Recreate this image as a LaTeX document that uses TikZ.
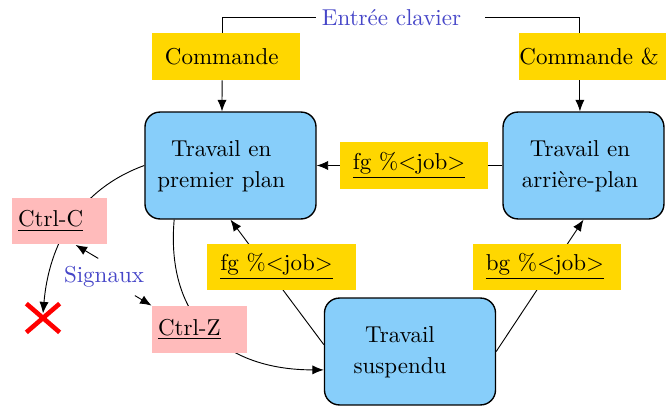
\documentclass[tikz,border=0pt]{standalone}
\usepackage{tikz}
\usetikzlibrary{arrows.meta, shapes.misc, backgrounds}

\definecolor{jaune}{RGB}{255,215,0}
\definecolor{bleuclair}{RGB}{135,206,250}
\definecolor{rose}{RGB}{255,187,187}
\definecolor{bleutexte}{RGB}{70,70,200}

% two centred lines, pushed a little to the left
\newcommand{\deuxlignes}[3][8pt]{{\renewcommand{\arraystretch}{1.12}%
  \begin{tabular}{@{}c@{\hspace{#1}}}#2\\#3\end{tabular}}}

\begin{document}
\begin{tikzpicture}[x=0.435pt, y=-0.435pt,
    >={Latex[length=5pt,width=4pt]},
    boitetravail/.style={rectangle, rounded corners=6.5pt, draw, line width=0.6pt,
        fill=bleuclair, minimum width=74.4pt, minimum height=46.5pt, inner sep=0pt},
    boitecmd/.style={rectangle, fill=jaune, text width=53.1pt, align=left,
        inner xsep=5.66pt, minimum height=20.4pt},
    boitesig/.style={rectangle, fill=rose, text width=36.1pt, align=left,
        inner xsep=2.6pt, minimum height=20.4pt},
    etiquette/.style={text=bleutexte}]
    \useasboundingbox (0,0) rectangle (666,406);
    \clip (0,0) rectangle (666,406);

    % Nodes
    \node[etiquette, text width=68.3pt, align=left, inner xsep=2.6pt] (clavier) at (400.5,17.5) {Entrée clavier};
    \node[boitecmd] (cmd) at (226,56.5) {Commande};
    \node[boitecmd, anchor=west, inner xsep=0pt, text width=75pt] (cmdbg) at (519,56.5) {Commande \&};

    \node[boitetravail] (premier) at (230.5,165.5) {\deuxlignes{Travail en}{premier plan}};
    \node[boitetravail, minimum width=70pt] (arriere) at (583.5,165.5) {\deuxlignes[3pt]{Travail en}{arrière-plan}};
    \node[boitetravail] (suspendu) at (410,351.5) {\deuxlignes[8.7pt]{Travail}{suspendu}};

    \node[boitecmd] (fghaut) at (414,165.5) {\underline{fg \%$<$job$>$}};
    \node[boitecmd] (fgbas) at (281.5,267) {\underline{fg \%$<$job$>$}};
    \node[boitecmd] (bgbas) at (547,267) {\underline{bg \%$<$job$>$}};

    \node[boitesig] (ctrlc) at (59.5,221) {\underline{Ctrl-C}};
    \node[boitesig] (ctrlz) at (199.5,329.5) {\underline{Ctrl-Z}};
    \node[etiquette] (signaux) at (104,277) {Signaux};

    % Edges
    \begin{scope}[on background layer]
        \node[cross out, draw=red, line width=2pt, minimum width=12.5pt, minimum height=10.5pt, inner sep=0pt] (croix) at (43,318) {};

        \draw ([xshift=-1.7pt]cmd.north) |- (clavier.west);
        \draw (clavier.east) -| ([xshift=26.5pt]cmdbg.north west);
        \draw[->] ([xshift=-1.7pt]cmd.south) -- ([xshift=-3.7pt]premier.north);
        \draw[->] ([xshift=26.5pt]cmdbg.south west) -- ([xshift=26.5pt]cmdbg.south west |- arriere.north);

        \draw[->] (arriere.west) -- (premier.east);
        \draw[->] ([yshift=3pt]suspendu.west) -- (premier.south);
        \draw[->] (suspendu.east) -- (arriere.south);

        \draw[->] (premier.west) to[out=200,in=85] ([yshift=2pt]croix.center);
        \draw[->] ([xshift=13pt]premier.south west) to[out=-95,in=180,looseness=1.2] ([yshift=-8pt]suspendu.west);

        \draw[->] ([xshift=-2.5pt]signaux.north) -- ([xshift=7pt]ctrlc.south);
        \draw[->] (signaux) -- (ctrlz.north west);
    \end{scope}
\end{tikzpicture}
\end{document}
